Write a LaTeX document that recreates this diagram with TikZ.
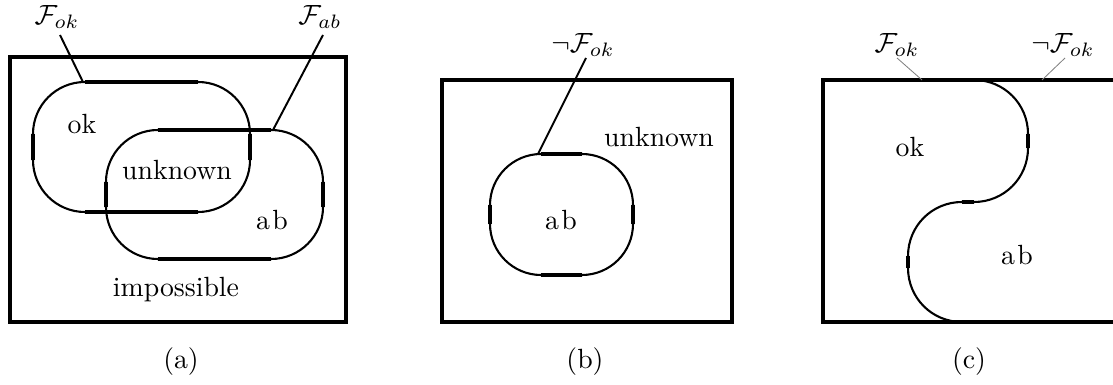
\documentclass[tikz,border=0pt]{standalone}
\usepackage{tikz}
\begin{document}
\begin{tikzpicture}[x=0.36pt,y=-0.36pt,
  frame/.style={line width=1.45pt,line join=miter},
  region/.style={line width=0.75pt},
  flat/.style={line width=1.3pt},
  leader/.style={line width=0.7pt},
  faint/.style={line width=0.3pt,gray},
  lbl/.style={inner sep=0pt,font=\normalsize}]
\useasboundingbox (0,0) rectangle (1113,385);

% ---------- (a) ----------
\draw[frame] (10,57) rectangle (346,322);
\draw[region,rounded corners=18.7pt] (33,82) rectangle (250,212);
\draw[region,rounded corners=18.7pt] (106,130) rectangle (323,259);
\draw[flat] (85,82) -- (198,82) (85,212) -- (198,212) (33,134) -- (33,160) (250,134) -- (250,160);
\draw[flat] (158,130) -- (271,130) (158,259) -- (271,259) (106,182) -- (106,207) (323,182) -- (323,207);
\node[lbl] (Fok) at (57,17) {$\mathcal{F}_{ok}$};
\node[lbl] (Fab) at (320,17) {$\mathcal{F}_{ab}$};
\coordinate (Fokend) at (83,82);
\coordinate (Fabend) at (273,130);
\coordinate (Fokstart) at (60,35);
\coordinate (Fabstart) at (323,35);
\draw[leader] (Fokstart) -- (Fokend);
\draw[leader] (Fabstart) -- (Fabend);
\node[lbl] (aok) at (82,124) {ok};
\node[lbl] (aunk) at (177,170) {unknown};
\node[lbl] (aab) at (272,220) {a\kern0.8pt b};
\node[lbl] (aimp) at (176,290) {impossible};
\node[lbl] (capa) at (181,362) {(a)};

% ---------- (b) ----------
\draw[frame] (442,80) rectangle (732,322);
\draw[region,rounded corners=18.4pt] (490,154) rectangle (633,275);
\draw[flat] (541,154) -- (582,154) (541,275) -- (582,275) (490,205) -- (490,224) (633,205) -- (633,224);
\node[lbl] (nFok) at (583,45) {$\neg\mathcal{F}_{ok}$};
\coordinate (nFokstart) at (586,58);
\coordinate (nFokend) at (538,154);
\draw[leader] (nFokstart) -- (nFokend);
\node[lbl] (bunk) at (659,137) {unknown};
\node[lbl] (bab) at (561,220) {a\kern0.8pt b};
\node[lbl] (capb) at (585,362) {(b)};

% ---------- (c) ----------
\draw[frame] (1113,80) -- (823,80) -- (823,322) -- (1113,322);
\draw[region] (974,80) .. controls (1004,80) and (1028,104) .. (1028,134)
  -- (1028,148) .. controls (1028,178) and (1004,202) .. (974,202)
  -- (962,202) .. controls (932,202) and (908,226) .. (908,256)
  -- (908,268) .. controls (908,298) and (932,322) .. (962,322);
\draw[flat] (1028,134) -- (1028,148) (974,202) -- (962,202) (908,256) -- (908,268);
\node[lbl] (cFok) at (897,45) {$\mathcal{F}_{ok}$};
\node[lbl] (cnFok) at (1063,45) {$\neg\mathcal{F}_{ok}$};
\coordinate (cFokstart) at (897,58);
\coordinate (cFokend) at (922,80);
\coordinate (cnFokstart) at (1065,58);
\coordinate (cnFokend) at (1042,80);
\draw[faint] (cFokstart) -- (cFokend);
\draw[faint] (cnFokstart) -- (cnFokend);
\node[lbl] (cok) at (910,147) {ok};
\node[lbl] (cab) at (1017,255) {a\kern0.8pt b};
\node[lbl] (capc) at (969,362) {(c)};
\end{tikzpicture}
\end{document}
